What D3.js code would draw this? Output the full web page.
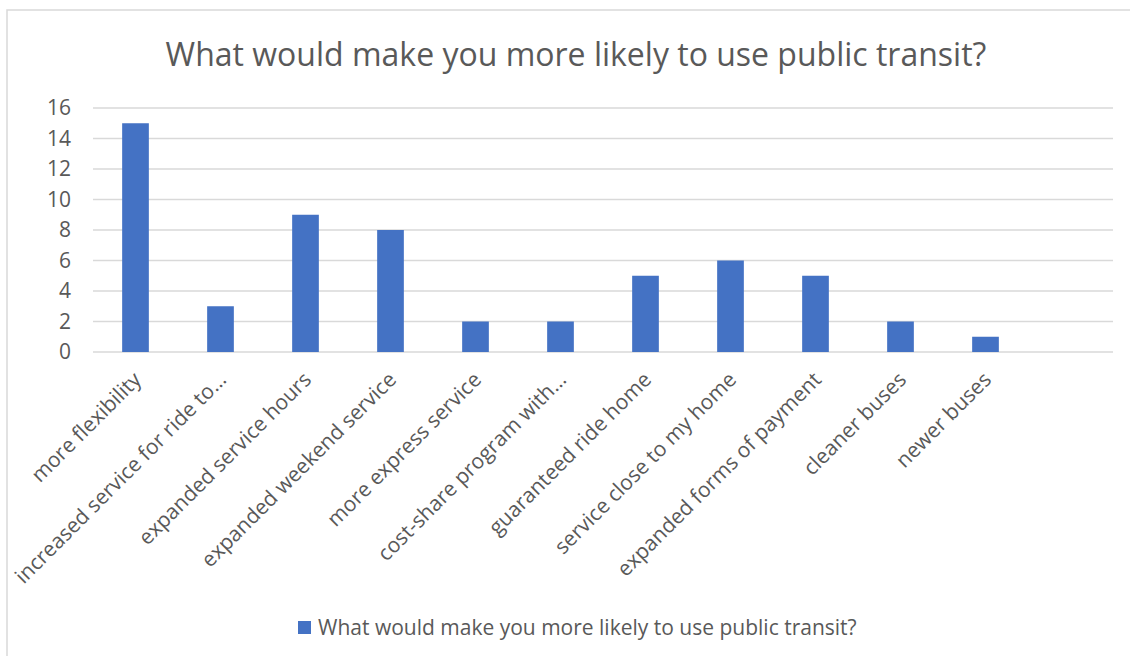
<!DOCTYPE html>
<html><head><meta charset="utf-8">
<script src="https://cdn.jsdelivr.net/npm/d3@7"></script>
<style>body{margin:0;background:#fff;font-family:"Open Sans",sans-serif;}</style>
</head><body>
<svg id="c" width="1130" height="656"></svg>
<script>
const categories = ["more flexibility","increased service for ride to…","expanded service hours","expanded weekend service","more express service","cost-share program with…","guaranteed ride home","service close to my home","expanded forms of payment","cleaner buses","newer buses",""];
const values = [15,3,9,8,2,2,5,6,5,2,1,null];
const yTicks = [0,2,4,6,8,10,12,14,16];
const title = "What would make you more likely to use public transit?";
const seriesName = "What would make you more likely to use public transit?";

const svg = d3.select("#c");
const font = "'Open Sans', sans-serif";
const txt = "#595959";
svg.append("rect").attr("x",7).attr("y",10).attr("width",1200).attr("height",700)
  .attr("fill","#fff").attr("stroke","#d9d9d9").attr("stroke-width",1.5);

const m = {left:93,right:1113,top:108,bottom:352};
const x = d3.scaleBand().domain(d3.range(categories.length)).range([m.left,m.right]).paddingInner(0.686).paddingOuter(0.343);
const y = d3.scaleLinear().domain([0,16]).range([m.bottom,m.top]);

svg.append("text").attr("x",576).attr("y",66).attr("text-anchor","middle")
  .attr("font-family",font).attr("font-size",32).attr("fill",txt).text(title);

const grid = svg.append("g");
grid.selectAll("line").data(yTicks).join("line")
  .attr("x1",m.left).attr("x2",m.right).attr("y1",d=>y(d)).attr("y2",d=>y(d))
  .attr("stroke","#d9d9d9").attr("stroke-width",1.3);

const yAxis = d3.axisLeft(y).tickValues(yTicks).tickSize(0).tickPadding(0);
const ya = svg.append("g").attr("transform",`translate(71,0)`).call(yAxis);
ya.select(".domain").remove();
ya.selectAll("text").attr("font-family",font).attr("font-size",21).attr("fill",txt);

svg.append("g").selectAll("rect").data(values.map((v,i)=>({v,i})).filter(d=>d.v!=null)).join("rect")
  .attr("x",d=>x(d.i)).attr("width",x.bandwidth())
  .attr("y",d=>y(d.v)).attr("height",d=>y(0)-y(d.v))
  .attr("fill","#4472c4");

const xAxis = d3.axisBottom(x).tickFormat(i=>categories[i]).tickSize(0).tickPadding(0);
const xa = svg.append("g").attr("transform",`translate(0,${m.bottom})`).call(xAxis);
xa.select(".domain").remove();
xa.selectAll("text").attr("font-family",font).attr("font-size",21).attr("fill",txt)
  .attr("text-anchor","end").attr("dy",null).attr("y",0)
  .attr("transform","translate(7,29) rotate(-45)");

const lg = svg.append("g").attr("transform","translate(298,621)");
lg.append("rect").attr("width",13).attr("height",13).attr("fill","#4472c4");
lg.append("text").attr("x",20).attr("y",14).attr("font-family",font).attr("font-size",21).attr("fill",txt).text(seriesName);
</script>
</body></html>
